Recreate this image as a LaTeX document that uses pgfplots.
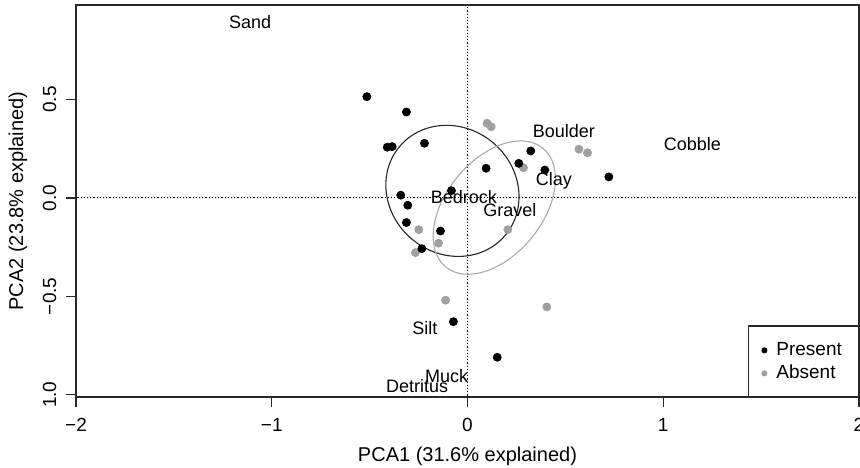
\documentclass[border=0pt]{standalone}
\usepackage{pgfplots}
\pgfplotsset{compat=1.18}
\usepackage{fontspec}
\setmainfont{Liberation Sans}
\definecolor{absentgray}{RGB}{160,160,160}
\definecolor{framegray}{RGB}{40,40,40}
\begin{document}
\begin{tikzpicture}
\begin{axis}[
  scale only axis, width=391.5pt, height=196pt,
  xmin=-2, xmax=2, ymin=-1.012, ymax=0.981,
  axis line style={framegray, line width=0.7pt},
  tick style={framegray, line width=0.6pt},
  tick align=outside, major tick length=5pt,
  xtick={-2,-1,0,1,2}, xticklabels={−2,−1,0,1,2},
  ytick={-1,-0.5,0,0.5}, yticklabels={},
  xtick pos=bottom, ytick pos=left,
  xticklabel shift=2pt,
  ticklabel style={font=\fontsize{9.5}{11}\selectfont},
  xlabel={PCA1 (31.6\% explained)}, ylabel={PCA2 (23.8\% explained)},
  label style={font=\fontsize{10}{12}\selectfont},
  xlabel style={at={(axis description cs:0.5,-0.152)}, anchor=center},
  ylabel style={at={(axis description cs:-0.074,0.5)}, anchor=center},
  legend style={at={(axis cs:1.435,-0.651)}, anchor=north west, draw=none, fill=none,
    font=\fontsize{9.5}{11}\selectfont, inner xsep=4.8pt, inner ysep=7pt, row sep=1.5pt,
    nodes={inner sep=1pt, text height=6.5pt, text depth=1.5pt}},
  legend cell align=left,
  legend image code/.code={\path[draw=none, fill=none] (0pt,-1pt) rectangle (8pt,1pt); \fill (3pt,0pt) circle (1.3pt);},
  reverse legend,
]
\addplot[black, dash pattern=on 0.6pt off 1pt, line width=0.5pt, forget plot] coordinates {(0,-1.2) (0,1.2)};
\addplot[black, dash pattern=on 0.6pt off 1pt, line width=0.5pt, forget plot] coordinates {(-2.5,0) (2.5,0)};
\draw[black!85, line width=0.55pt] (axis cs:-0.077,0.036) ellipse [x radius=34.5pt, y radius=31.5pt, rotate=-40];
\draw[absentgray!90, line width=0.55pt] (axis cs:0.137,-0.049) ellipse [x radius=38.35pt, y radius=24pt, rotate=50.7];
\addplot[only marks, mark=*, mark size=2pt, color=absentgray, mark options={draw=absentgray, fill=absentgray}] coordinates {
(0.100,0.380) (0.121,0.362) (0.569,0.248) (0.613,0.230) (0.286,0.154)
(-0.249,-0.161) (-0.148,-0.230) (-0.266,-0.278) (0.206,-0.161)
(-0.112,-0.520) (0.405,-0.554)};
\addlegendentry{Absent}
\addplot[only marks, mark=*, mark size=2pt, color=black, mark options={draw=black, fill=black}] coordinates {
(-0.514,0.515) (-0.312,0.437) (-0.410,0.258) (-0.385,0.261) (-0.220,0.278)
(0.095,0.151) (0.262,0.176) (0.323,0.239) (0.395,0.142) (0.722,0.107)
(-0.082,0.037) (-0.341,0.014) (-0.305,-0.037) (-0.312,-0.125) (-0.138,-0.168)
(-0.233,-0.258) (-0.072,-0.629) (0.152,-0.810)};
\addlegendentry{Present}
\draw[framegray, line width=0.6pt] (axis cs:1.435,-1.1) rectangle (axis cs:2.2,-0.651);
\begin{scope}[every node/.style={font=\fontsize{9}{11}\selectfont, inner sep=0pt}]
\node at (axis cs:-1.111,0.895) {Sand};
\node at (axis cs:0.492,0.342) {Boulder};
\node at (axis cs:1.149,0.273) {Cobble};
\node at (axis cs:0.441,0.086) {Clay};
\node at (axis cs:-0.019,0.004) {Bedrock};
\node at (axis cs:0.216,-0.061) {Gravel};
\node at (axis cs:-0.218,-0.661) {Silt};
\node at (axis cs:-0.107,-0.905) {Muck};
\node at (axis cs:-0.257,-0.956) {Detritus};
\end{scope}
\end{axis}
\begin{scope}[every node/.style={font=\fontsize{9.5}{11}\selectfont, inner sep=0pt, rotate=90, anchor=center}]
\node at (-13.25pt,148.7pt) {0.5};
\node at (-13.25pt,99.52pt) {0.0};
\node at (-13.25pt,50.35pt) {−0.5};
\node at (-13.25pt,1.18pt) {1.0};
\end{scope}
\pgfresetboundingbox
\path (-38pt,-35pt) rectangle (392pt,198.5pt);
\end{tikzpicture}
\end{document}
